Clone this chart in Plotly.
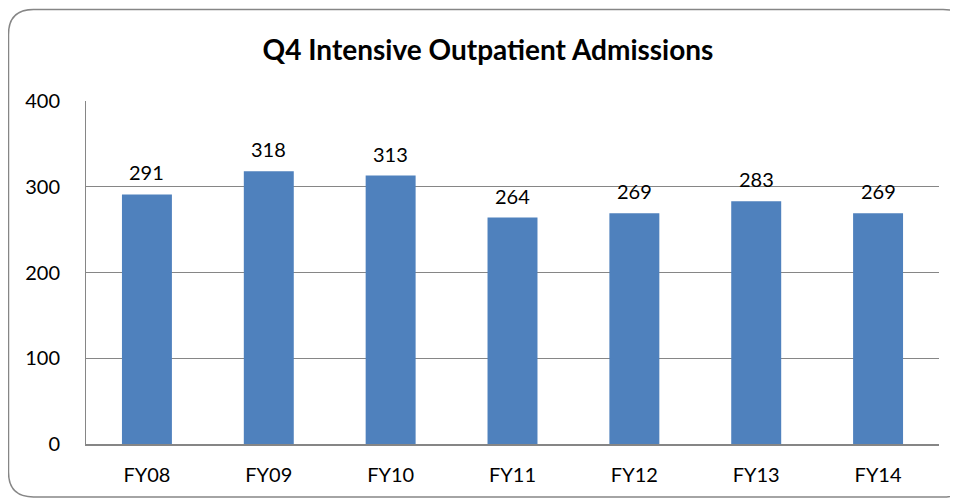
import plotly.graph_objects as go

categories = ["FY08", "FY09", "FY10", "FY11", "FY12", "FY13", "FY14"]
admissions = [291, 318, 313, 264, 269, 283, 269]
y_ticks = [0, 100, 200, 300, 400]

OFF = 8  # page body margin
W, H = 950, 491
L, R, T, B = 86 - OFF, 939 - OFF, 101 - OFF, 444 - OFF  # plot area in figure pixels

FONT = "Lato, Open Sans, Liberation Sans, sans-serif"


def px(x):
    return (x - L) / (R - L)


def py(y):
    return (B - y) / (B - T)


def rounded_rect(x0, y0, x1, y1, r):
    pts = [
        f"M {px(x0 + r)},{py(y0)}",
        f"L {px(x1 - r)},{py(y0)}",
        f"Q {px(x1)},{py(y0)} {px(x1)},{py(y0 + r)}",
        f"L {px(x1)},{py(y1 - r)}",
        f"Q {px(x1)},{py(y1)} {px(x1 - r)},{py(y1)}",
        f"L {px(x0 + r)},{py(y1)}",
        f"Q {px(x0)},{py(y1)} {px(x0)},{py(y1 - r)}",
        f"L {px(x0)},{py(y0 + r)}",
        f"Q {px(x0)},{py(y0)} {px(x0 + r)},{py(y0)}",
        "Z",
    ]
    return " ".join(pts)


fig = go.Figure(
    go.Bar(
        x=categories,
        y=admissions,
        marker=dict(color="#4F81BD", line=dict(width=0)),
        width=0.41,
        hoverinfo="x+y",
    )
)

annotations = [
    dict(
        x=c,
        y=v,
        xref="x",
        yref="y",
        text=str(v),
        showarrow=False,
        yanchor="middle",
        yshift=22,
        font=dict(size=20, color="#000000", family=FONT),
    )
    for c, v in zip(categories, admissions)
]

fig.update_layout(
    width=W,
    height=H,
    margin=dict(l=L, r=W - R, t=T, b=H - B),
    paper_bgcolor="white",
    plot_bgcolor="white",
    showlegend=False,
    font=dict(family=FONT, size=20, color="#000000"),
    title=dict(
        text="<b>Q4 Intensive Outpatient Admissions</b>",
        x=(488 - OFF) / W,
        xanchor="center",
        y=1 - (50 - OFF) / H,
        yanchor="middle",
        font=dict(size=28, color="#000000", family=FONT),
    ),
    xaxis=dict(
        showgrid=False,
        showline=True,
        linecolor="#868686",
        linewidth=1.5,
        ticks="",
        tickfont=dict(size=20),
        ticklabelstandoff=12,
    ),
    yaxis=dict(
        range=[0, 400],
        tickvals=y_ticks,
        showgrid=True,
        gridcolor="#868686",
        gridwidth=1,
        showline=True,
        linecolor="#868686",
        linewidth=1,
        ticks="",
        tickfont=dict(size=20),
        ticklabelstandoff=21,
        zeroline=False,
    ),
    annotations=annotations,
    shapes=[
        dict(
            type="path",
            xref="paper",
            yref="paper",
            path=rounded_rect(8 - OFF + 0.5, 9 - OFF + 0.5, 968 - OFF, 497 - OFF, 25),
            line=dict(color="#868686", width=1.5),
            fillcolor="rgba(0,0,0,0)",
            layer="below",
        )
    ],
)

fig.write_html("out.html")
